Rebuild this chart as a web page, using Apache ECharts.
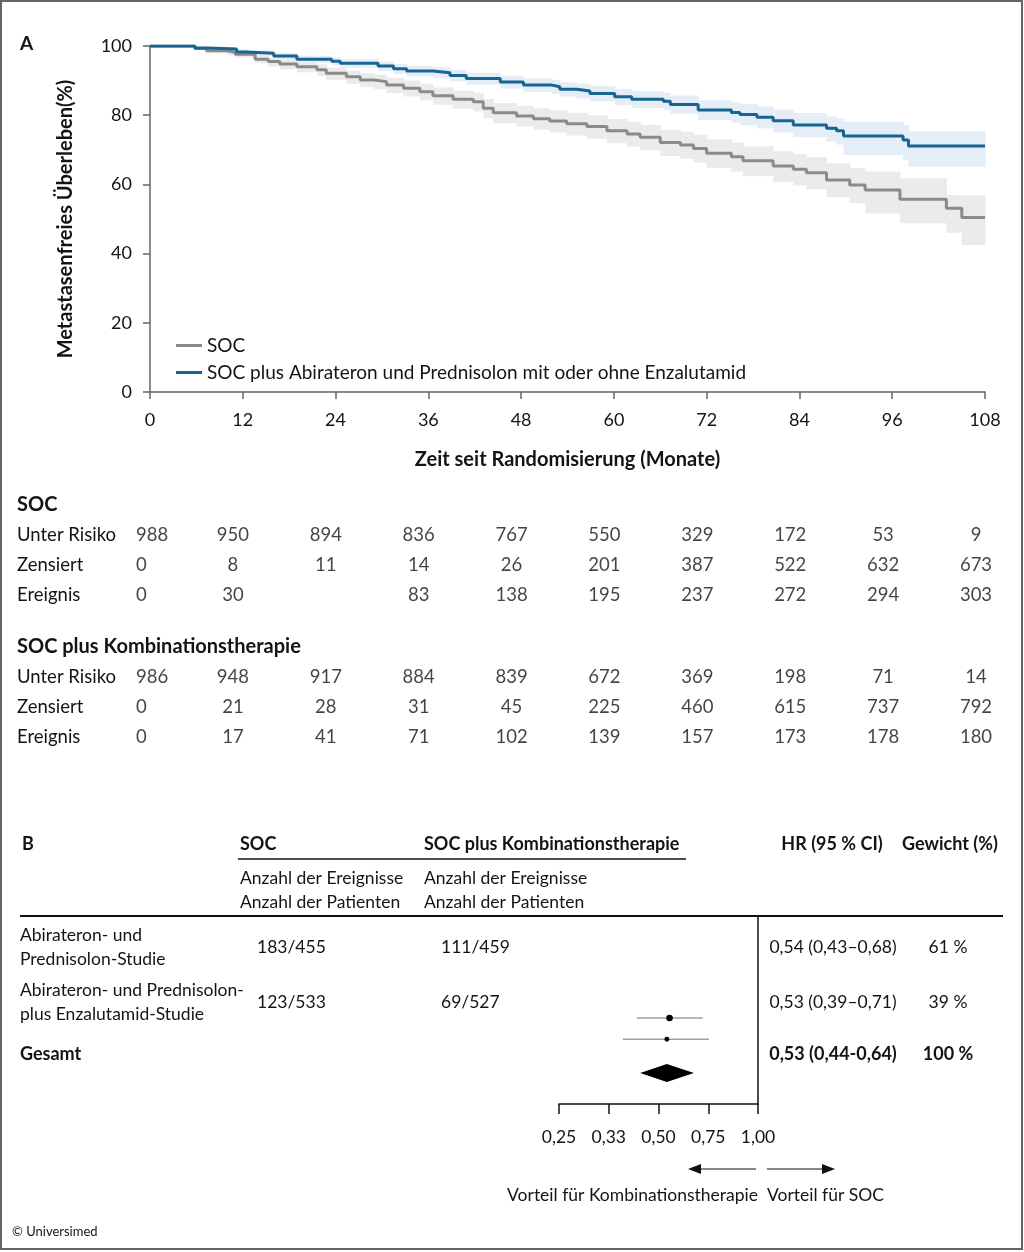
<!DOCTYPE html>
<html>
<head>
<meta charset="utf-8">
<script src="https://cdn.jsdelivr.net/npm/echarts@6/dist/echarts.min.js"></script>
<style>
html,body{margin:0;padding:0;background:#fff;}
#chart{width:1024px;height:1252px;}
</style>
</head>
<body>
<div id="chart"></div>
<script>
// ---------- Panel A: Kaplan-Meier data ----------
const monthTicks = [0, 12, 24, 36, 48, 60, 72, 84, 96, 108];

const socName = 'SOC';
const combName = 'SOC plus Abirateron und Prednisolon mit oder ohne Enzalutamid';

const socTime  = [0, 5.8, 7.3, 9.9, 11, 13.6, 15.3, 16.8, 19, 21.6, 22.8, 25.4, 27.2, 29, 30.6, 32.8, 34.9, 36.6, 39.2, 41.8, 43.1, 44.4, 47.4, 49.6, 51.7, 53.9, 56.5, 59.1, 61.7, 63.4, 66, 68.6, 70.3, 72, 75.2, 76.7, 80.6, 83.2, 84.9, 87.5, 90.5, 92.5, 97, 103, 105, 108];
const socSurv  = [100, 99.3, 98.6, 98.2, 97.6, 96.2, 95.5, 94.8, 94.0, 93.1, 92.1, 91.1, 90.2, 89.7, 88.7, 87.8, 86.8, 85.6, 84.6, 83.9, 82.0, 80.7, 79.8, 79.0, 78.3, 77.5, 76.7, 75.5, 74.6, 73.6, 72.1, 71.4, 70.4, 69.0, 68.0, 66.8, 65.3, 64.4, 63.4, 61.3, 59.8, 58.4, 55.7, 53.1, 50.4, 50.4];
const socLower = [100, 98.8, 97.9, 97.3, 96.6, 95.0, 94.1, 93.3, 92.4, 91.3, 90.2, 89.1, 88.1, 87.5, 86.4, 85.4, 84.3, 83.0, 81.9, 81.1, 79.1, 77.7, 76.7, 75.8, 75.0, 74.1, 73.2, 71.9, 70.9, 69.8, 68.2, 67.4, 66.3, 64.8, 63.7, 62.4, 60.7, 59.7, 58.6, 56.3, 54.6, 51.6, 48.8, 46.0, 42.5, 42.5];
const socUpper = [100, 99.8, 99.3, 99.0, 98.5, 97.3, 96.7, 96.1, 95.5, 94.7, 93.8, 92.9, 92.1, 91.7, 90.8, 90.0, 89.1, 88.0, 87.1, 86.5, 84.7, 83.5, 82.7, 82.0, 81.4, 80.7, 80.0, 78.9, 78.1, 77.2, 75.8, 75.2, 74.3, 73.0, 72.1, 71.0, 69.6, 68.8, 67.9, 66.1, 64.7, 63.7, 61.8, 56.9, 56.9, 56.9];

const combTime  = [0, 5.8, 7.5, 11.2, 12.5, 16, 19, 23.5, 24.6, 29.5, 31.5, 33.2, 36.6, 38.8, 40.9, 45.3, 48.3, 52, 53, 55.2, 56.9, 60.1, 62.3, 66.4, 67.3, 70.9, 75.2, 76.3, 78.5, 80.6, 83.2, 87.5, 88.8, 89.7, 97.4, 98.1, 108];
const combSurv  = [100, 99.4, 99.1, 98.3, 97.9, 97.1, 96.2, 95.6, 95.0, 94.2, 93.4, 92.8, 92.3, 91.5, 90.6, 89.6, 88.7, 88.2, 87.5, 87.0, 86.3, 85.3, 84.6, 84.0, 83.1, 81.5, 80.8, 80.2, 79.4, 78.4, 77.2, 76.2, 75.5, 74.0, 72.8, 71.1, 71.1];
const combLower = [100, 99.0, 98.6, 97.6, 97.1, 96.1, 95.1, 94.4, 93.7, 92.8, 91.9, 91.2, 90.6, 89.8, 88.8, 87.7, 86.7, 86.1, 85.4, 84.8, 84.0, 82.9, 82.1, 81.4, 80.4, 78.6, 77.8, 77.1, 76.2, 75.0, 73.6, 72.4, 71.5, 68.5, 67.0, 65.1, 65.1];
const combUpper = [100, 99.8, 99.6, 99.0, 98.7, 98.0, 97.2, 96.7, 96.2, 95.5, 94.8, 94.3, 93.9, 93.1, 92.3, 91.4, 90.6, 90.2, 89.5, 89.1, 88.5, 87.6, 87.0, 86.5, 85.7, 84.3, 83.7, 83.2, 82.5, 81.6, 80.6, 79.7, 79.1, 78.1, 77.2, 75.4, 75.4];

// ---------- Risk tables ----------
const riskRows = ['Unter Risiko', 'Zensiert', 'Ereignis'];
const socAtRisk   = [988, 950, 894, 836, 767, 550, 329, 172, 53, 9];
const socCensored = [0, 8, 11, 14, 26, 201, 387, 522, 632, 673];
const socEvents   = [0, 30, null, 83, 138, 195, 237, 272, 294, 303];
const combAtRisk   = [986, 948, 917, 884, 839, 672, 369, 198, 71, 14];
const combCensored = [0, 21, 28, 31, 45, 225, 460, 615, 737, 792];
const combEvents   = [0, 17, 41, 71, 102, 139, 157, 173, 178, 180];

// ---------- Panel B: forest plot ----------
const studyLabels = [['Abirateron- und', 'Prednisolon-Studie'], ['Abirateron- und Prednisolon-', 'plus Enzalutamid-Studie'], ['Gesamt']];
const socCounts  = ['183/455', '123/533', ''];
const combCounts = ['111/459', '69/527', ''];
const hrTexts    = ['0,54 (0,43–0,68)', '0,53 (0,39–0,71)', '0,53 (0,44-0,64)'];
const weightTexts = ['61 %', '39 %', '100 %'];
const forestHR   = [0.54, 0.53, 0.53];
const forestLow  = [0.43, 0.39, 0.44];
const forestHigh = [0.68, 0.71, 0.64];
const forestKind = ['study', 'study', 'total'];
const forestTickLabels = ['0,25', '0,33', '0,50', '0,75', '1,00'];

// ---------- build ----------
const FONT = 'Lato';
const TXT = '#141414';
const GRAY = '#8a8a8a';
const BLUE = '#176692';

function pairs(t, v) { return t.map((x, i) => [x, v[i]]); }

function bandSeries(t, lo, hi, color) {
  const data = t.slice(0, -1).map((x, i) => [x, t[i + 1], lo[i], hi[i]]);
  return {
    type: 'custom', xAxisIndex: 0, yAxisIndex: 0, silent: true, z: 1,
    encode: { x: [0, 1], y: [2, 3] }, data: data,
    renderItem: function (params, api) {
      const p1 = api.coord([api.value(0), api.value(3)]);
      const p2 = api.coord([api.value(1), api.value(2)]);
      return { type: 'rect', shape: { x: p1[0], y: p1[1], width: p2[0] - p1[0] + 0.6, height: p2[1] - p1[1] },
        style: { fill: color } };
    }
  };
}

function riskSeries(gridIdx, rows) {
  const data = [];
  rows.forEach((arr, r) => {
    arr.forEach((v, c) => {
      if (v === null) return;
      const item = { value: [monthTicks[c], r, v] };
      if (c === 0) item.label = { align: 'left', offset: [-4, 0] };
      data.push(item);
    });
  });
  return {
    type: 'scatter', xAxisIndex: gridIdx, yAxisIndex: gridIdx, symbol: 'circle', symbolSize: 1,
    itemStyle: { color: 'rgba(0,0,0,0)' }, silent: true,
    label: { show: true, position: 'inside', formatter: p => String(p.value[2]), color: TXT, fontSize: 18.5, fontFamily: FONT },
    data: data
  };
}

const forestRowPos = [4.88, 5.9, 7.52];
const forestData = forestHR.map((hr, i) => [Math.log2(forestLow[i]), Math.log2(hr), Math.log2(forestHigh[i]), forestRowPos[i], i]);

// graphic texts
function text(x, y, s, o) {
  o = o || {};
  const size = o.size || 17.5;
  return { type: 'text', x: x, y: y, silent: true,
    style: { text: s, fill: TXT, fontFamily: FONT, fontSize: size, fontWeight: o.bold ? 'bold' : 'normal',
      textAlign: o.align || 'left', align: o.align || 'left', textVerticalAlign: 'middle', verticalAlign: 'middle' } };
}
function hline(x1, x2, y, w, c) {
  return { type: 'line', silent: true, shape: { x1: x1, y1: y, x2: x2, y2: y }, style: { stroke: c || '#111', lineWidth: w || 1.5 } };
}

const graphics = [];
graphics.push({ type: 'rect', silent: true, shape: { x: 1, y: 1, width: 1021, height: 1248 }, style: { fill: 'none', stroke: '#666', lineWidth: 2 } });
graphics.push(text(20, 44, 'A', { bold: true, size: 19 }));
graphics.push(text(17, 505, 'SOC', { bold: true, size: 20 }));
graphics.push(text(17, 647, 'SOC plus Kombinationstherapie', { bold: true, size: 20 }));
// Panel B header
graphics.push(text(22, 844, 'B', { bold: true, size: 18 }));
graphics.push(text(240, 844, 'SOC', { bold: true, size: 18 }));
graphics.push(text(424, 844, 'SOC plus Kombinationstherapie', { bold: true, size: 18 }));
graphics.push(hline(238, 686, 859, 1.5));
graphics.push(text(240, 878, 'Anzahl der Ereignisse'));
graphics.push(text(240, 902, 'Anzahl der Patienten'));
graphics.push(text(424, 878, 'Anzahl der Ereignisse'));
graphics.push(text(424, 902, 'Anzahl der Patienten'));
graphics.push(text(832, 844, 'HR (95 % CI)', { bold: true, size: 18, align: 'center' }));
graphics.push(text(950, 844, 'Gewicht (%)', { bold: true, size: 18, align: 'center' }));
graphics.push(hline(20, 1003, 916, 2));
const rowY = [947, 1002, 1054];
studyLabels.forEach((lines, i) => {
  const bold = forestKind[i] === 'total';
  const sz = bold ? 18 : 17.5;
  if (lines.length === 2) {
    graphics.push(text(20, rowY[i] - 12, lines[0]));
    graphics.push(text(20, rowY[i] + 12, lines[1]));
  } else {
    graphics.push(text(20, rowY[i], lines[0], { bold: bold, size: sz }));
  }
  if (socCounts[i]) graphics.push(text(257, rowY[i], socCounts[i]));
  if (combCounts[i]) graphics.push(text(441, rowY[i], combCounts[i]));
  graphics.push(text(833, rowY[i], hrTexts[i], { bold: bold, size: sz, align: 'center' }));
  graphics.push(text(948, rowY[i], weightTexts[i], { bold: bold, size: sz, align: 'center' }));
});
// arrows
graphics.push(hline(700, 756, 1169, 1.2));
graphics.push({ type: 'polygon', silent: true, shape: { points: [[688, 1169], [701, 1164], [701, 1174]] }, style: { fill: '#111' } });
graphics.push(hline(767, 823, 1169, 1.2));
graphics.push({ type: 'polygon', silent: true, shape: { points: [[835, 1169], [822, 1164], [822, 1174]] }, style: { fill: '#111' } });
graphics.push(text(758, 1195, 'Vorteil für Kombinationstherapie', { align: 'right' }));
graphics.push(text(767, 1195, 'Vorteil für SOC'));
graphics.push(text(12, 1232, '© Universimed', { size: 13 }));

const axisText = { color: TXT, fontSize: 18, fontFamily: FONT };
const axLine = { show: true, onZero: false, lineStyle: { color: '#666', width: 1.5 } };

const option = {
  animation: false,
  backgroundColor: '#fff',
  textStyle: { fontFamily: FONT },
  grid: [
    { left: 150, right: 39, top: 46, bottom: 860 },
    { left: 140, right: 48, top: 520, height: 90 },
    { left: 140, right: 48, top: 662, height: 90 },
    { left: 559, right: 266, top: 916, bottom: 148 }
  ],
  legend: {
    data: [socName, combName], orient: 'vertical', left: 171, top: 331, icon: 'rect', itemWidth: 26, itemHeight: 3, itemGap: 8,
    textStyle: { color: TXT, fontSize: 19, fontFamily: FONT }, selectedMode: false
  },
  xAxis: [
    { gridIndex: 0, type: 'value', min: 0, max: 108, interval: 12,
      name: 'Zeit seit Randomisierung (Monate)', nameLocation: 'middle', nameGap: 58,
      nameTextStyle: { color: TXT, fontSize: 20, fontWeight: 'bold', fontFamily: FONT },
      axisLine: axLine, axisTick: { show: true, length: 7, lineStyle: { color: '#666', width: 1.5 } },
      axisLabel: Object.assign({ margin: 19 }, axisText), splitLine: { show: false } },
    { gridIndex: 1, type: 'value', min: 0, max: 108, show: false },
    { gridIndex: 2, type: 'value', min: 0, max: 108, show: false },
    { gridIndex: 3, type: 'value', min: -2, max: 0, interval: 0.5, position: 'bottom',
      axisLine: { show: true, onZero: false, lineStyle: { color: '#111', width: 1.5 } },
      axisTick: { show: true, length: 10, lineStyle: { color: '#111', width: 1.5 } },
      axisLabel: { margin: 24, color: TXT, fontSize: 17.5, fontFamily: FONT, formatter: (v, i) => forestTickLabels[i] },
      splitLine: { show: false } }
  ],
  yAxis: [
    { gridIndex: 0, type: 'value', min: 0, max: 100, interval: 20,
      name: 'Metastasenfreies Überleben(%)', nameLocation: 'middle', nameGap: 74,
      nameTextStyle: { color: TXT, fontSize: 20, fontWeight: 'bold', fontFamily: FONT },
      axisLine: axLine, axisTick: { show: true, length: 7, lineStyle: { color: '#666', width: 1.5 } },
      axisLabel: Object.assign({ margin: 18 }, axisText), splitLine: { show: false } },
    { gridIndex: 1, type: 'category', inverse: true, data: riskRows,
      axisLine: { show: false }, axisTick: { show: false },
      axisLabel: { align: 'left', margin: 123, color: TXT, fontSize: 18.5, fontFamily: FONT } },
    { gridIndex: 2, type: 'category', inverse: true, data: riskRows,
      axisLine: { show: false }, axisTick: { show: false },
      axisLabel: { align: 'left', margin: 123, color: TXT, fontSize: 18.5, fontFamily: FONT } },
    { gridIndex: 3, type: 'value', min: 0, max: 9, inverse: true, position: 'right',
      axisLine: { show: true, onZero: false, lineStyle: { color: '#111', width: 1.5 } },
      axisTick: { show: false }, axisLabel: { show: false }, splitLine: { show: false } }
  ],
  series: [
    bandSeries(socTime, socLower, socUpper, '#ebebeb'),
    bandSeries(combTime, combLower, combUpper, '#e5edf6'),
    { name: socName, type: 'line', step: 'end', symbol: 'none', color: GRAY,
      lineStyle: { color: GRAY, width: 3 }, data: pairs(socTime, socSurv), z: 3 },
    { name: combName, type: 'line', step: 'end', symbol: 'none', color: BLUE,
      lineStyle: { color: BLUE, width: 3 }, data: pairs(combTime, combSurv), z: 4 },
    riskSeries(1, [socAtRisk, socCensored, socEvents]),
    riskSeries(2, [combAtRisk, combCensored, combEvents]),
    { type: 'custom', xAxisIndex: 3, yAxisIndex: 3, silent: true, clip: false,
      data: forestData,
      renderItem: function (params, api) {
        const lo = api.coord([api.value(0), api.value(3)]);
        const mid = api.coord([api.value(1), api.value(3)]);
        const hi = api.coord([api.value(2), api.value(3)]);
        const i = api.value(4);
        if (forestKind[i] === 'total') {
          return { type: 'polygon', shape: { points: [[lo[0], lo[1]], [mid[0], mid[1] - 9], [hi[0], hi[1]], [mid[0], mid[1] + 9]] }, style: { fill: '#000' } };
        }
        return { type: 'group', children: [
          { type: 'line', shape: { x1: lo[0], y1: lo[1], x2: hi[0], y2: hi[1] }, style: { stroke: '#a0a0a0', lineWidth: 1.5 } },
          { type: 'circle', shape: { cx: mid[0], cy: mid[1], r: i === 0 ? 3.3 : 2.4 }, style: { fill: '#000' } }
        ] };
      } }
  ],
  graphic: graphics
};

const chart = echarts.init(document.getElementById('chart'), null, { renderer: 'canvas' });
chart.setOption(option);
</script>
</body>
</html>
